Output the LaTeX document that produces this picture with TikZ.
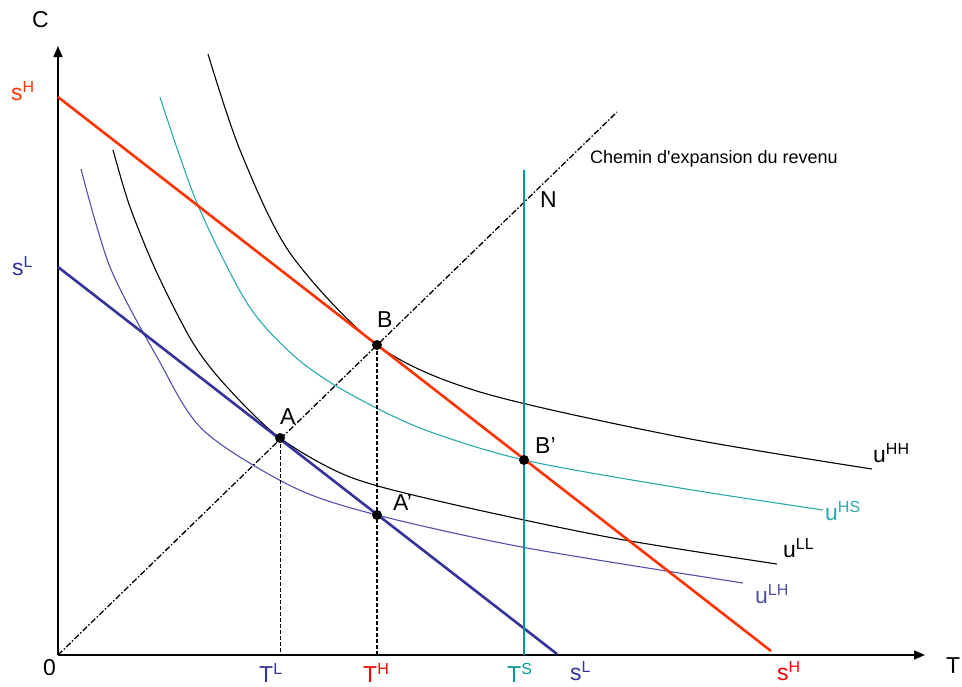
\documentclass[tikz,border=0pt]{standalone}
\usepackage{fontspec}
\setmainfont{Liberation Sans}
\usetikzlibrary{arrows.meta}
\definecolor{redH}{RGB}{255,51,0}
\definecolor{blueL}{RGB}{51,51,153}
\definecolor{blueLH}{RGB}{80,80,170}
\definecolor{tealS}{RGB}{0,153,153}
\definecolor{tealHS}{RGB}{40,170,170}
\newcommand{\suplab}[2]{#1\raisebox{8pt}{\fontsize{16}{16}\selectfont #2}}

\begin{document}
\begin{tikzpicture}[x=1pt, y=-1pt, font=\fontsize{23}{27}\selectfont,
  lab/.style={anchor=base west, inner sep=0pt},
  icurve/.style={line width=1.1pt},
  budget/.style={line width=2.6pt},
  dot/.style={circle, fill=black, inner sep=0pt, minimum size=10pt}]
  \useasboundingbox (0,0) rectangle (962,686);
  % Axes
  \coordinate (O) at (58,655);
  \draw[line width=1.4pt, -{Triangle[length=11pt,width=9pt]}] (O) -- (58,46);
  \draw[line width=1.4pt, -{Triangle[length=11pt,width=9pt]}] (O) -- (925,655);
  \node[lab] (labC) at (32,27) {C};
  \node[lab] (labT) at (946,673) {T};
  \node[lab] (lab0) at (43,675) {0};
  % Indifference curves
  \draw[icurve] plot[smooth] coordinates {(208,54) (240,150) (290,253) (377,345)
    (480,392) (680,437) (872,469)};
  \draw[icurve, tealHS] plot[smooth] coordinates {(160,97) (197,203) (247,303) (293,355)
    (343,390) (420,428) (524,460) (680,488) (823,510)};
  \draw[icurve] plot[smooth] coordinates {(113,150) (130,207) (157,273) (193,343)
    (227,387) (280,438) (350,477) (447,503) (613,538) (777,564)};
  \draw[icurve, blueLH] plot[smooth] coordinates {(81,169) (110,267) (157,357) (203,430)
    (293,487) (377,515) (527,548) (743,583)};
  % Expansion path
  \coordinate (P) at (617,112);
  \draw[line width=1.3pt, dash pattern=on 6pt off 2pt on 1.5pt off 2pt] (O) -- (P);
  \node[lab, font=\fontsize{18}{20}\selectfont] (path) at (590,163) {Chemin d\textquotesingle expansion du revenu};
  % Budget lines and time constraint
  \draw[budget, redH] (58,97) -- (771,651);
  \draw[budget, blueL] (58,267) -- (557,654);
  \draw[line width=2.4pt, tealS] (524,170) -- (524,655);
  % Points
  \coordinate (A) at (280,438);
  \coordinate (B) at (377,345);
  \coordinate (A2) at (377,515);
  \coordinate (B2) at (524,460);
  \coordinate (TL) at (280,655);
  \coordinate (TH) at (377,655);
  \draw[line width=1pt, dash pattern=on 4pt off 2pt] (A) -- (TL);
  \draw[line width=2pt, dash pattern=on 4pt off 2pt] (B) -- (TH);
  \foreach \p in {A, B, A2, B2} {
    \node[dot] at (\p) {};
  }
  \node[lab] (labA) at (280,424) {A};
  \node[lab] (labB) at (377,327) {B};
  \node[lab] (labA2) at (393,510) {A'};
  \node[lab] (labB2) at (535,453) {B'};
  \node[lab] (labN) at (540,207) {N};
  % Axis labels
  \node[lab, redH] (sHleft) at (11,100) {\suplab{s}{H}};
  \node[lab, blueL] (sLleft) at (12,275) {\suplab{s}{L}};
  \node[lab, blueL] (labTL) at (259,682) {\suplab{T}{L}};
  \node[lab, red] (labTH) at (363,682) {\suplab{T}{H}};
  \node[lab, tealS] (labTS) at (507,682) {\suplab{T}{S}};
  \node[lab, blueL] (sLbot) at (570,680) {\suplab{s}{L}};
  \node[lab, red] (sHbot) at (777,680) {\suplab{s}{H}};
  % Curve labels
  \node[lab] (uHH) at (873,462) {\suplab{u}{HH}};
  \node[lab, tealHS] (uHS) at (825,520) {\suplab{u}{HS}};
  \node[lab] (uLL) at (783,557) {\suplab{u}{LL}};
  \node[lab, blueLH] (uLH) at (755,603) {\suplab{u}{LH}};
\end{tikzpicture}
\end{document}
